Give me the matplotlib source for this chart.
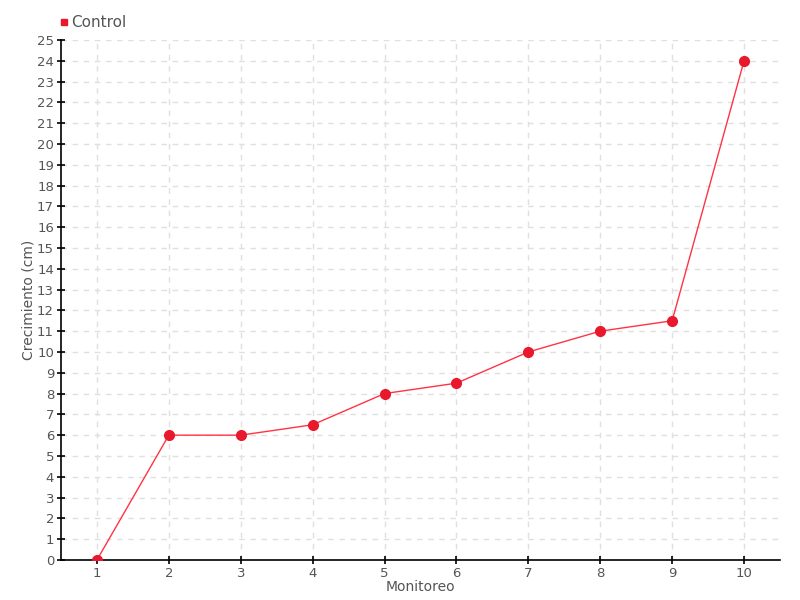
import matplotlib
matplotlib.use("Agg")
import matplotlib.pyplot as plt
from matplotlib.lines import Line2D

# datos del monitoreo
monitoreo = [1, 2, 3, 4, 5, 6, 7, 8, 9, 10]
control = [0, 6, 6, 6.5, 8, 8.5, 10, 11, 11.5, 24]

plt.rcParams['font.family'] = ['Liberation Sans Narrow', 'DejaVu Sans']

fig = plt.figure(figsize=(8, 6), dpi=100)
ax = fig.add_axes([0.07625, 0.0667, 0.89875, 0.8667])

ax.plot(monitoreo, control, color='#ff3344', linewidth=1, zorder=3)
ax.plot(monitoreo, control, 'o', color='#e8192c', markersize=7, zorder=4)

ax.set_xlim(0.5, 10.5)
ax.set_ylim(0, 25)
ax.set_xticks(monitoreo)
ax.set_yticks(range(0, 26))

ax.grid(True, color='#e0e0e0', linestyle=(0, (4, 4)), linewidth=1)
ax.set_axisbelow(True)
for s in ['top', 'right']:
    ax.spines[s].set_visible(False)
for s in ['left', 'bottom']:
    ax.spines[s].set_linewidth(1.2)

ax.tick_params(direction='inout', length=6, width=1.2, labelsize=9.5,
               labelcolor='#555555', pad=2)

ax.set_xlabel("Monitoreo", fontsize=10, color='#555555')
ax.set_ylabel("Crecimiento (cm)", fontsize=10, color='#555555')
ax.xaxis.set_label_coords(0.5, -0.038)
ax.yaxis.set_label_coords(-0.035, 0.5)

handle = Line2D([], [], marker='s', color='#e8192c', linestyle='None', markersize=5)
fig.legend([handle], ["Control"], loc='upper left', bbox_to_anchor=(0.055, 0.998),
           frameon=False, fontsize=11, handletextpad=0.1, handlelength=0.8,
           labelcolor='#555555')

fig.savefig("out.png", dpi=100)
